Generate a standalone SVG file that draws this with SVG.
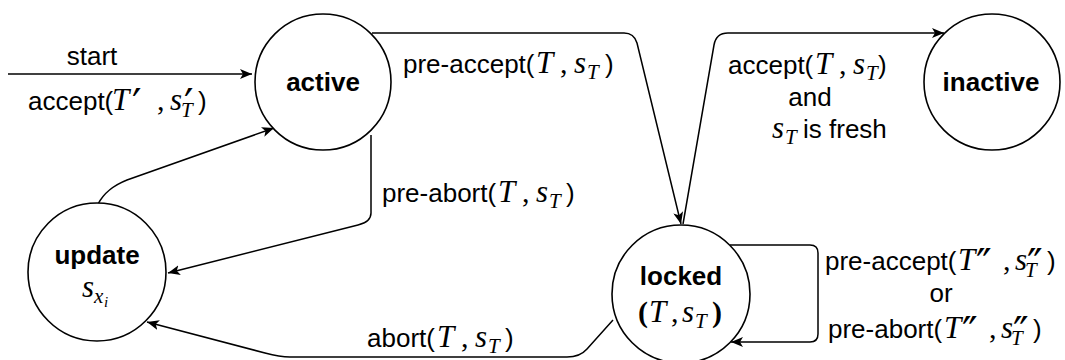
<svg xmlns="http://www.w3.org/2000/svg" width="1065" height="360" viewBox="0 0 1065 360">
  <style>
    .node { fill: #ffffff; stroke: #000000; stroke-width: 1.6; }
    .edge { fill: none; stroke: #000000; stroke-width: 1.5; marker-end: url(#arrow); }
    text { font-family: "Liberation Sans", Arial, sans-serif; font-size: 26px; fill: #000000; }
    .b { font-weight: bold; }
    .m { font-family: "Liberation Serif", "Times New Roman", serif; font-style: italic; font-size: 31px; font-weight: normal; }
    .c { font-family: "Liberation Serif", "Times New Roman", serif; font-size: 30px; font-weight: normal; }
    .s { font-family: "Liberation Serif", "Times New Roman", serif; font-style: italic; font-size: 21px; font-weight: normal; }
    .ss { font-family: "Liberation Serif", "Times New Roman", serif; font-style: italic; font-size: 15px; }
    .pr { font-family: "DejaVu Sans", sans-serif; font-size: 42px; }
    .par { font-family: "Liberation Serif", "Times New Roman", serif; font-size: 30px; font-weight: bold; }
  </style>
  <defs>
    <marker id="arrow" viewBox="0 0 12 10" refX="12" refY="5" markerWidth="12" markerHeight="10" markerUnits="userSpaceOnUse" orient="auto">
      <path d="M0,0 L12,5 L0,10 L3,5 Z" fill="#000000"/>
    </marker>
  </defs>

  <!-- transitions -->
  <g id="connectors">
    <path class="edge" d="M8,74 L252,74"/>
    <path class="edge" d="M372,33 L624,33 Q634,33 637,43 L681,224"/>
    <path class="edge" d="M683,224 L714,45 Q716,33 728,33 L944,33"/>
    <path class="edge" d="M98,204 C104,193 112,186 127,180 L274,128"/>
    <path class="edge" d="M371,135 L371,213 Q371,222 358,225 L168,273"/>
    <path class="edge" d="M613,320 L587,349 Q580,357 567,357 L290,357 Q280,357 265,353 L147,322"/>
    <path class="edge" d="M730,245 L810,245 Q818,245 818,253 L818,334 Q818,342 810,342 L731,342"/>

    <text x="92" y="65" text-anchor="middle">start</text>
    <text x="28" y="110">accept(<tspan class="m" x="112" y="110">T</tspan><tspan class="pr" x="132" y="119">′</tspan><tspan class="c" x="157" y="110">,</tspan><tspan class="m" x="170" y="110">s</tspan><tspan class="pr" x="184" y="119">′</tspan><tspan class="s" x="181" y="117">T</tspan><tspan x="198" y="110">)</tspan></text>

    <text x="403" y="73">pre-accept(<tspan class="m" x="536" y="73">T</tspan><tspan class="c" x="560" y="73">,</tspan><tspan class="m" x="574" y="73">s</tspan><tspan class="s" x="587" y="79">T</tspan><tspan x="605" y="73">)</tspan></text>
    <text x="382" y="202">pre-abort(<tspan class="m" x="498" y="202">T</tspan><tspan class="c" x="522" y="202">,</tspan><tspan class="m" x="536" y="202">s</tspan><tspan class="s" x="549" y="208">T</tspan><tspan x="566" y="202">)</tspan></text>

    <text x="728" y="74">accept(<tspan class="m" x="815" y="74">T</tspan><tspan class="c" x="839" y="74">,</tspan><tspan class="m" x="853" y="74">s</tspan><tspan class="s" x="866" y="80">T</tspan><tspan x="878" y="74">)</tspan></text>
    <text x="810" y="106" text-anchor="middle">and</text>
    <text x="772" y="138"><tspan class="m">s</tspan><tspan class="s" x="785" y="144">T</tspan><tspan x="803" y="138">is fresh</tspan></text>

    <text x="367" y="347">abort(<tspan class="m" x="437" y="347">T</tspan><tspan class="c" x="461" y="347">,</tspan><tspan class="m" x="475" y="347">s</tspan><tspan class="s" x="488" y="353">T</tspan><tspan x="505" y="347">)</tspan></text>

    <text x="825" y="270">pre-accept(<tspan class="m" x="958" y="270">T</tspan><tspan class="pr" x="976" y="279">″</tspan><tspan class="c" x="1003" y="270">,</tspan><tspan class="m" x="1015" y="270">s</tspan><tspan class="pr" x="1027" y="279">″</tspan><tspan class="s" x="1025" y="277">T</tspan><tspan x="1047" y="270">)</tspan></text>
    <text x="941" y="302" text-anchor="middle">or</text>
    <text x="828" y="338">pre-abort(<tspan class="m" x="944" y="338">T</tspan><tspan class="pr" x="962" y="347">″</tspan><tspan class="c" x="989" y="338">,</tspan><tspan class="m" x="1001" y="338">s</tspan><tspan class="pr" x="1013" y="347">″</tspan><tspan class="s" x="1011" y="345">T</tspan><tspan x="1033" y="338">)</tspan></text>
  </g>

  <!-- states -->
  <g id="active">
    <circle class="node" cx="323" cy="82" r="68"/>
    <text class="b" x="323" y="91" text-anchor="middle">active</text>
  </g>
  <g id="inactive">
    <circle class="node" cx="992" cy="82" r="68"/>
    <text class="b" x="991" y="91" text-anchor="middle">inactive</text>
  </g>
  <g id="update">
    <circle class="node" cx="97" cy="272" r="69"/>
    <text class="b" x="97" y="264" text-anchor="middle">update</text>
    <text x="82" y="297"><tspan class="m">s</tspan><tspan class="s" x="94" y="303">x</tspan><tspan class="ss" x="104" y="307">i</tspan></text>
  </g>
  <g id="locked">
    <circle class="node" cx="681" cy="294" r="69"/>
    <text class="b" x="681" y="285" text-anchor="middle">locked</text>
    <text x="638" y="322"><tspan class="par">(</tspan><tspan class="m" x="649" y="322">T</tspan><tspan class="c" x="671" y="322">,</tspan><tspan class="m" x="682" y="322">s</tspan><tspan class="s" x="695" y="328">T</tspan><tspan class="par" x="712" y="322">)</tspan></text>
  </g>
</svg>
